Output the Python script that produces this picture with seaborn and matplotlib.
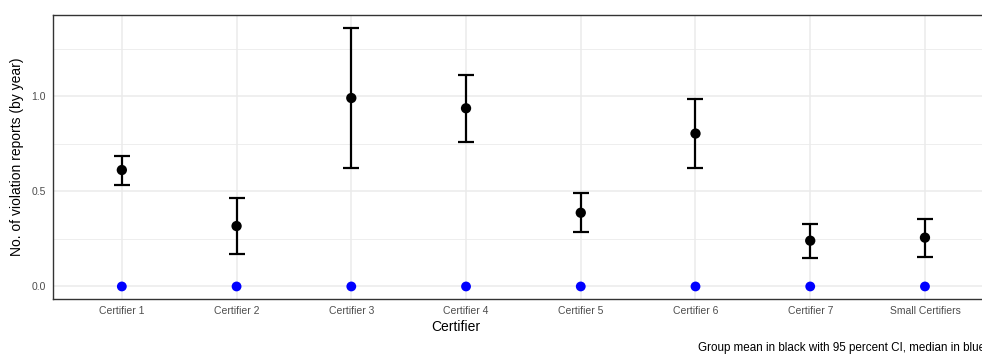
import pandas as pd
import numpy as np
import seaborn as sns
import matplotlib.pyplot as plt

certifiers = ["Certifier 1", "Certifier 2", "Certifier 3", "Certifier 4",
              "Certifier 5", "Certifier 6", "Certifier 7", "Small Certifiers"]
group_mean = [0.613, 0.318, 0.992, 0.938, 0.388, 0.805, 0.241, 0.257]
ci_low = [0.535, 0.171, 0.624, 0.762, 0.287, 0.625, 0.150, 0.157]
ci_high = [0.689, 0.466, 1.361, 1.112, 0.490, 0.985, 0.331, 0.355]
group_median = [0, 0, 0, 0, 0, 0, 0, 0]

df = pd.DataFrame({
    "certifier": certifiers,
    "mean": group_mean,
    "low": ci_low,
    "high": ci_high,
    "median": group_median,
})

sns.set_theme(style="whitegrid")
plt.rcParams["font.family"] = ["Liberation Sans", "DejaVu Sans"]

W, H = 982, 354
fig = plt.figure(figsize=(W / 100, H / 100), dpi=100)
ax = fig.add_axes([53 / W, (H - 299) / H, (993.8 - 53) / W, (299 - 15) / H])

pos = np.arange(len(certifiers))
yerr = [df["mean"] - df["low"], df["high"] - df["mean"]]
ax.errorbar(pos, df["mean"], yerr=yerr, fmt="none", ecolor="black",
            elinewidth=1.6, capsize=5.5, capthick=1.6, zorder=3)
sns.scatterplot(x=pos, y=df["mean"], ax=ax, color="black", s=55,
                edgecolor="none", zorder=4)
sns.scatterplot(x=pos, y=df["median"], ax=ax, color="#0000FF", s=50,
                edgecolor="none", zorder=5)

ax.set_xlim(-0.6, len(certifiers) - 1 + 0.6)
ax.set_ylim(-0.066, 1.429)
ax.set_xticks(pos)
ax.set_xticklabels(certifiers)
ax.set_yticks([0.0, 0.5, 1.0])
ax.set_yticklabels(["0.0", "0.5", "1.0"])
ax.set_yticks([0.25, 0.75, 1.25], minor=True)

ax.set_facecolor("white")
ax.grid(True, which="major", color="#EBEBEB", linewidth=1.1)
ax.grid(True, which="minor", axis="y", color="#EBEBEB", linewidth=0.6)
ax.set_axisbelow(True)
for s in ax.spines.values():
    s.set_color("#333333")
    s.set_linewidth(1.0)

ax.tick_params(axis="both", which="major", length=3, width=0.8, color="#333333",
               labelsize=7.5, labelcolor="#4D4D4D", pad=2)
ax.tick_params(axis="y", which="minor", length=0)

ax.set_xlabel("")
ax.set_ylabel("")
fig.text(456 / W, 1 - 327 / H, "Certifier", ha="center", va="center",
         fontsize=10, color="black")
fig.text(17 / W, 1 - 157 / H, "No. of violation reports (by year)", ha="center",
         va="center", rotation=90, fontsize=10, color="black")
# caption runs past the right edge, as in the source image
fig.text(698 / W, 1 - 348 / H,
         "Group mean in black with 95 percent CI, median in blue",
         ha="left", va="center", fontsize=8.4, color="black")

fig.savefig("out.png", dpi=100)
